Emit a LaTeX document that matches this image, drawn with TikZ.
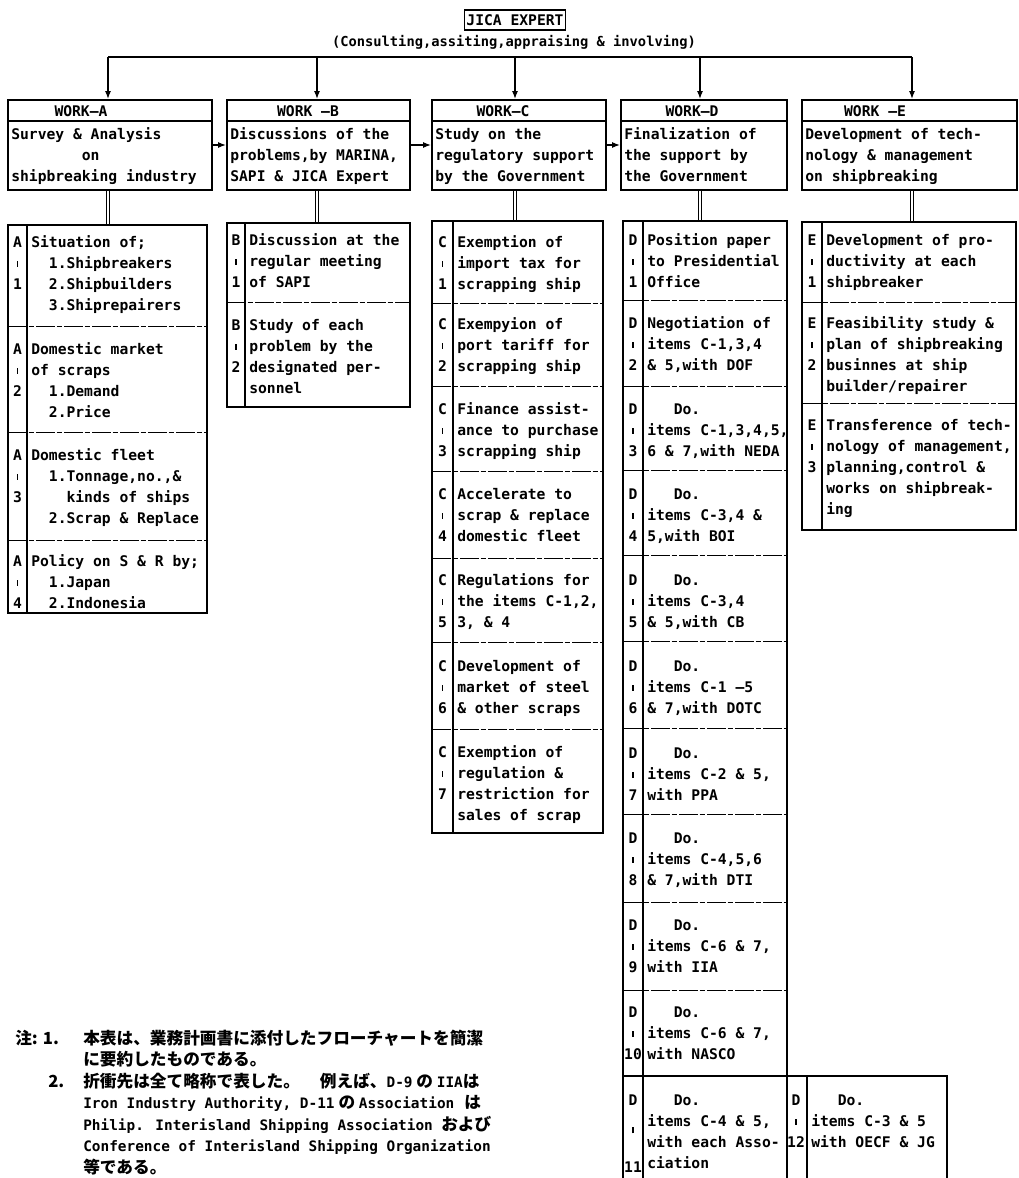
\documentclass[tikz,border=0pt]{standalone}
\usepackage{fontspec}
\newfontfamily\mono{DejaVu Sans Mono}
\newfontfamily\jp{Noto Sans CJK JP}
\usetikzlibrary{arrows.meta,fit}
\newcommand\lstrut{\rule{0pt}{9pt}}
\newcommand\tck{\rule[1.5pt]{1pt}{4.5pt}}
\newcommand\ind[1]{\hphantom{#1}}
\newcommand\lat{\mono\bfseries\fontsize{10.8}{16.1}\selectfont}
% #1 name, #2 label x, #3 text x, #4 first line centre y, #5 letter, #6 number, #7 text
\newcommand\cellbox[7]{%
  \node[lab, anchor=north] (#1l) at (#2,{#4-6.5}) {\lstrut#5\\\tck\\#6};
  \node[txt, anchor=north west] (#1t) at (#3,{#4-6.5}) {\lstrut#7};
}
\begin{document}
\begin{tikzpicture}[x=0.75pt,y=-0.75pt,
  box/.style={draw, line width=1.4pt, inner sep=0pt},
  lab/.style={font=\mono\bfseries\fontsize{11}{15.75}\selectfont, align=center, inner sep=0pt},
  txt/.style={font=\mono\bfseries\fontsize{11}{15.75}\selectfont, align=left, inner sep=0pt},
  hdr/.style={font=\mono\bfseries\fontsize{11}{14}\selectfont, inner sep=0pt, anchor=base},
  arr/.style={line width=1pt, -{Latex[length=6pt,width=4.5pt]}},
  rowsep/.style={line width=0.7pt, dash pattern=on 14pt off 1.5pt on 4pt off 1.5pt},
  hline/.style={line width=1.1pt},
  divline/.style={line width=1.4pt},
  dbl/.style={double, double distance=1.6pt, line width=0.8pt}]
\useasboundingbox (0,0) rectangle (1018,1178);
\clip (0,0) rectangle (1018,1178);

% ---- JICA expert
\node[draw, line width=1.1pt, inner xsep=1.5pt, inner ysep=0pt, minimum height=15pt,
      font=\mono\bfseries\fontsize{11}{13}\selectfont] (jica) at (515,20) {JICA EXPERT};
\node[inner sep=0pt, font=\mono\bfseries\fontsize{10.3}{12}\selectfont] (cons) at (514,42)
  {(Consulting,assiting,appraising \& involving)};

% ---- top boxes
\node[box, fit={(8,100)(212,190)}] (wa) {};
\node[box, fit={(227,100)(410,190)}] (wb) {};
\node[box, fit={(432,100)(606,190)}] (wc) {};
\node[box, fit={(621,100)(787,190)}] (wd) {};
\node[box, fit={(802,100)(1017,190)}] (we) {};
\draw[hline] (8,121) -- (212,121);
\draw[hline] (227,121) -- (410,121);
\draw[hline] (432,121) -- (606,121);
\draw[hline] (621,121) -- (787,121);
\draw[hline] (802,121) -- (1017,121);
\node[hdr] (ha) at (81,116.5) {WORK—A};
\node[hdr] (hb) at (308,116.5) {WORK —B};
\node[hdr] (hc) at (503,116.5) {WORK—C};
\node[hdr] (hd) at (692,116.5) {WORK—D};
\node[hdr] (he) at (875,116.5) {WORK —E};
\node[txt, anchor=north west] (ta) at (11,127.5) {\lstrut Survey \& Analysis\\\ind{00000000}on\\shipbreaking industry};
\node[txt, anchor=north west] (tb) at (230,127.5) {\lstrut Discussions of the\\problems,by MARINA,\\SAPI \& JICA Expert};
\node[txt, anchor=north west] (tc) at (435,127.5) {\lstrut Study on the\\regulatory support\\by the Government};
\node[txt, anchor=north west] (td) at (624,127.5) {\lstrut Finalization of\\the support by\\the Government};
\node[txt, anchor=north west] (te) at (805,127.5) {\lstrut Development of tech-\\nology \& management\\on shipbreaking};

% ---- distribution bus
\coordinate (bus1) at (108,57);
\coordinate (bus2) at (317,57);
\coordinate (bus3) at (515,57);
\coordinate (bus4) at (700,57);
\coordinate (bus5) at (912,57);
\draw[line width=1pt] (bus1) -- (bus5);
\draw[arr] (bus1) -- (bus1 |- wa.north);
\draw[arr] (bus2) -- (bus2 |- wb.north);
\draw[arr] (bus3) -- (bus3 |- wc.north);
\draw[arr] (bus4) -- (bus4 |- wd.north);
\draw[arr] (bus5) -- (bus5 |- we.north);
\draw[arr] (wa.east) -- (wb.west);
\draw[arr] (wb.east) -- (wc.west);
\draw[arr] (wc.east) -- (wd.west);

% ---- lists
\node[box, fit={(8,225)(207,613)}] (la) {};
\node[box, fit={(227,223)(410,407)}] (lb) {};
\node[box, fit={(432,221)(603,833)}] (lc) {};
\node[box, fit={(623,221)(787,1190)}] (ld) {};
\node[box, fit={(787,1076)(947,1190)}] (ld12) {};
\node[box, fit={(802,222)(1016,530)}] (le) {};

\draw[dbl] (wa.south -| bus1) -- (la.north -| bus1);
\draw[dbl] (wb.south -| bus2) -- (lb.north -| bus2);
\draw[dbl] (wc.south -| bus3) -- (lc.north -| bus3);
\draw[dbl] (wd.south -| bus4) -- (ld.north -| bus4);
\draw[dbl] (we.south -| bus5) -- (le.north -| bus5);

% dividers
\draw[divline] (27,225) -- (27,613);
\draw[divline] (245,223) -- (245,407);
\draw[divline] (453,221) -- (453,833);
\draw[divline] (643,221) -- (643,1190);
\draw[divline] (807,1076) -- (807,1190);
\draw[divline] (822,222) -- (822,530);

% row separators
\draw[rowsep] (8,326) -- (207,326);
\draw[rowsep] (8,432) -- (207,432);
\draw[rowsep] (8,540) -- (207,540);
\draw[rowsep] (227,302) -- (410,302);
\foreach \yy in {303,386,471,558,642,729} \draw[rowsep] (432,\yy) -- (603,\yy);
\foreach \yy in {300,386,470,555,641,728,814,902,990} \draw[rowsep] (623,\yy) -- (787,\yy);
\draw[line width=1.1pt] (623,1076) -- (787,1076);
\draw[rowsep] (802,302) -- (1016,302);
\draw[rowsep] (802,403) -- (1016,403);

% A cells
\cellbox{a1}{17.5}{31}{242}{A}{1}{Situation of;\\\ind{00}1.Shipbreakers\\\ind{00}2.Shipbuilders\\\ind{00}3.Shiprepairers}
\cellbox{a2}{17.5}{31}{349}{A}{2}{Domestic market\\of scraps\\\ind{00}1.Demand\\\ind{00}2.Price}
\cellbox{a3}{17.5}{31}{455}{A}{3}{Domestic fleet\\\ind{00}1.Tonnage,no.,\&\\\ind{0000}kinds of ships\\\ind{00}2.Scrap \& Replace}
\cellbox{a4}{17.5}{31}{561}{A}{4}{Policy on S \& R by;\\\ind{00}1.Japan\\\ind{00}2.Indonesia}
% B cells
\cellbox{b1}{236}{249}{240}{B}{1}{Discussion at the\\regular meeting\\of SAPI}
\cellbox{b2}{236}{249}{325}{B}{2}{Study of each\\problem by the\\designated per-\\sonnel}
% C cells
\cellbox{c1}{442.5}{457}{242}{C}{1}{Exemption of\\import tax for\\scrapping ship}
\cellbox{c2}{442.5}{457}{324}{C}{2}{Exempyion of\\port tariff for\\scrapping ship}
\cellbox{c3}{442.5}{457}{409}{C}{3}{Finance assist-\\ance to purchase\\scrapping ship}
\cellbox{c4}{442.5}{457}{494}{C}{4}{Accelerate to\\scrap \& replace\\domestic fleet}
\cellbox{c5}{442.5}{457}{580}{C}{5}{Regulations for\\the items C-1,2,\\3, \& 4}
\cellbox{c6}{442.5}{457}{666}{C}{6}{Development of\\market of steel\\\& other scraps}
\cellbox{c7}{442.5}{457}{752}{C}{7}{Exemption of\\regulation \&\\restriction for\\sales of scrap}
% D cells
\cellbox{d1}{633}{647}{240}{D}{1}{Position paper\\to Presidential\\Office}
\cellbox{d2}{633}{647}{323}{D}{2}{Negotiation of\\items C-1,3,4\\\& 5,with DOF}
\cellbox{d3}{633}{647}{409}{D}{3}{\ind{000}Do.\\items C-1,3,4,5,\\6 \& 7,with NEDA}
\cellbox{d4}{633}{647}{494}{D}{4}{\ind{000}Do.\\items C-3,4 \&\\5,with BOI}
\cellbox{d5}{633}{647}{580}{D}{5}{\ind{000}Do.\\items C-3,4\\\& 5,with CB}
\cellbox{d6}{633}{647}{666}{D}{6}{\ind{000}Do.\\items C-1 —5\\\& 7,with DOTC}
\cellbox{d7}{633}{647}{753}{D}{7}{\ind{000}Do.\\items C-2 \& 5,\\with PPA}
\cellbox{d8}{633}{647}{838}{D}{8}{\ind{000}Do.\\items C-4,5,6\\\& 7,with DTI}
\cellbox{d9}{633}{647}{925}{D}{9}{\ind{000}Do.\\items C-6 \& 7,\\with IIA}
\cellbox{d10}{633}{647}{1012}{D}{10}{\ind{000}Do.\\items C-6 \& 7,\\with NASCO}
\node[lab, anchor=north] (d11l) at (633,1093.5) {\lstrut D\\[6.4pt]\tck\\[12.4pt]11};
\node[txt, anchor=north west] (d11t) at (647,1093.5) {\lstrut\ind{000}Do.\\items C-4 \& 5,\\with each Asso-\\ciation};
\cellbox{d12}{796}{811}{1100}{D}{12}{\ind{000}Do.\\items C-3 \& 5\\with OECF \& JG}
% E cells
\cellbox{e1}{812}{826}{240}{E}{1}{Development of pro-\\ductivity at each\\shipbreaker}
\cellbox{e2}{812}{826}{323}{E}{2}{Feasibility study \&\\plan of shipbreaking\\businnes  at ship\\builder/repairer}
\cellbox{e3}{812}{826}{425}{E}{3}{Transference of tech-\\nology of management,\\planning,control \&\\works on shipbreak-\\ing}

% ---- footnote
\node[inner sep=0pt, anchor=base west, font=\jp\bfseries\fontsize{12.5}{16.1}\selectfont] (n1) at (15,1044) {注: 1.};
\node[inner sep=0pt, anchor=base west, font=\jp\bfseries\fontsize{12.5}{16.1}\selectfont] (n2) at (48,1087) {2.};
\node[inner sep=0pt, anchor=north west, align=left, font=\jp\bfseries\fontsize{12.5}{16.1}\selectfont] (note) at (83,1029.3)
 {\rule{0pt}{11pt}本表は、業務計画書に添付したフローチャートを簡潔\\
  に要約したものである。\\
  折衝先は全て略称で表した。\hspace{1.2em}例えば、{\lat D-9} の {\lat IIA}は\\
  {\lat Iron Industry Authority, D-11} の {\lat Association}\hspace{0.6em}は\\
  {\lat Philip. Interisland Shipping Association}\hspace{0.5em}および\\
  {\lat Conference of Interisland Shipping Organization}\\
  等である。};
\end{tikzpicture}
\end{document}
